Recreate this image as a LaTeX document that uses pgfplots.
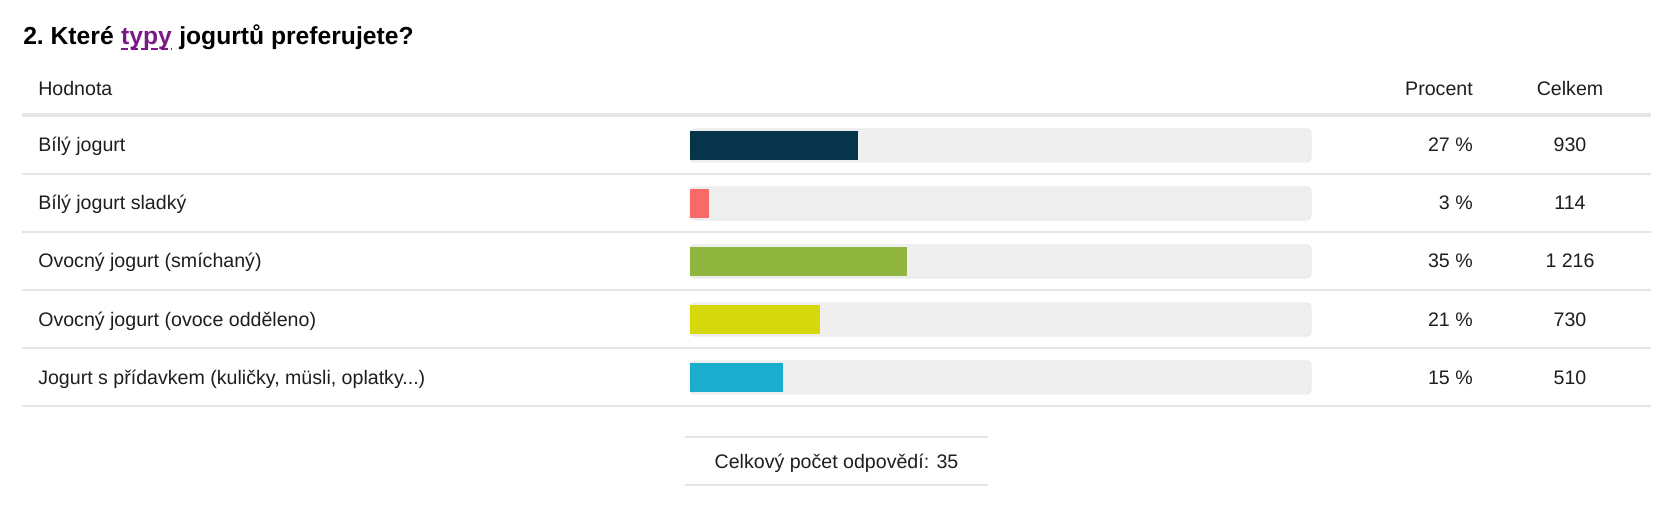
\documentclass[border=0pt]{standalone}
\usepackage{pgfplots}
\pgfplotsset{compat=1.18}
\usepackage{fontspec}
\setmainfont{Liberation Sans}

\definecolor{txt}{HTML}{1E1E1E}
\definecolor{rule}{HTML}{E6E6E6}
\definecolor{track}{HTML}{EFEFEF}
\definecolor{trackline}{HTML}{E0E0E0}
\definecolor{link}{HTML}{7B1A86}
\definecolor{c1}{HTML}{07344B}
\definecolor{c2}{HTML}{F86A6A}
\definecolor{c3}{HTML}{91B63F}
\definecolor{c4}{HTML}{D6D80B}
\definecolor{c5}{HTML}{1BADD0}

\begin{document}
\begin{tikzpicture}
% bars: 0..100 % over the grey track
\begin{axis}[
    at={(517.5pt,-87.375pt)}, anchor=north west,
    width=465.75pt, height=217.5pt, scale only axis,
    xmin=0, xmax=100, ymin=-0.5, ymax=4.5, y dir=reverse,
    hide axis, clip=false,
    xbar, bar width=22.2pt, bar shift=0pt,
    every axis plot/.append style={draw=none}]
  \pgfplotsinvokeforeach{0,1,2,3,4}{
    \draw[fill=track, draw=trackline, rounded corners=3pt]
      ([yshift=12.4pt]axis cs:0,#1) rectangle ([yshift=-12.4pt]axis cs:100,#1);
  }
  \addplot[fill=c1] coordinates {(27,0)};
  \addplot[fill=c2] coordinates {(3,1)};
  \addplot[fill=c3] coordinates {(35,2)};
  \addplot[fill=c4] coordinates {(21,3)};
  \addplot[fill=c5] coordinates {(15,4)};
\end{axis}

\begin{scope}[x=0.75pt, y=-0.75pt, text=txt]
  \path (0,0) rectangle (1669,509);
  % title
  \begin{scope}[every node/.style={inner sep=0, anchor=base west, text=black,
      font=\fontsize{18.5pt}{22pt}\selectfont\bfseries\frenchspacing}]
    \node (t1) at (23,45) {2. Které\ \mbox{}};
    \node[text=link] (t2) at (t1.base east) {typy};
    \node at (t2.base east) {\mbox{}\ jogurtů preferujete?};
  \end{scope}
  \draw[link, line width=1.3pt, dash pattern=on 5pt off 2.5pt]
    ([yshift=-3pt]t2.base west) -- ([yshift=-3pt]t2.base east);

  % header and rows
  \begin{scope}[every node/.style={inner sep=0, font=\fontsize{14.7pt}{18pt}\selectfont}]
    \node[anchor=base west] at (38,96) {Hodnota};
    \node[anchor=base east] at (1473,96) {Procent};
    \node[anchor=base] at (1570,96) {Celkem};

    \node[anchor=base west] at (38,152) {Bílý jogurt};
    \node[anchor=base west] at (38,210) {Bílý jogurt sladký};
    \node[anchor=base west] at (38,268) {Ovocný jogurt (smíchaný)};
    \node[anchor=base west] at (38,326) {Ovocný jogurt (ovoce odděleno)};
    \node[anchor=base west] at (38,384) {Jogurt s přídavkem (kuličky, müsli, oplatky...)};

    \node[anchor=base east] at (1473,152) {27 \%};
    \node[anchor=base east] at (1473,210) {3 \%};
    \node[anchor=base east] at (1473,268) {35 \%};
    \node[anchor=base east] at (1473,326) {21 \%};
    \node[anchor=base east] at (1473,384) {15 \%};

    \node[anchor=base] at (1570,152) {930};
    \node[anchor=base] at (1570,210) {114};
    \node[anchor=base] at (1570,268) {1 216};
    \node[anchor=base] at (1570,326) {730};
    \node[anchor=base] at (1570,384) {510};

    \node[anchor=base] at (836.5,468) {Celkový počet odpovědí: 35};
  \end{scope}

  % rules
  \fill[rule] (22,113) rectangle (1651,117);
  \foreach \yy in {174,232,290,348,406}
    \draw[rule, line width=1.2pt] (22,\yy) -- (1651,\yy);
  \draw[rule, line width=1.2pt] (685,437) -- (988,437);
  \draw[rule, line width=1.2pt] (685,485) -- (988,485);
\end{scope}
\end{tikzpicture}
\end{document}
